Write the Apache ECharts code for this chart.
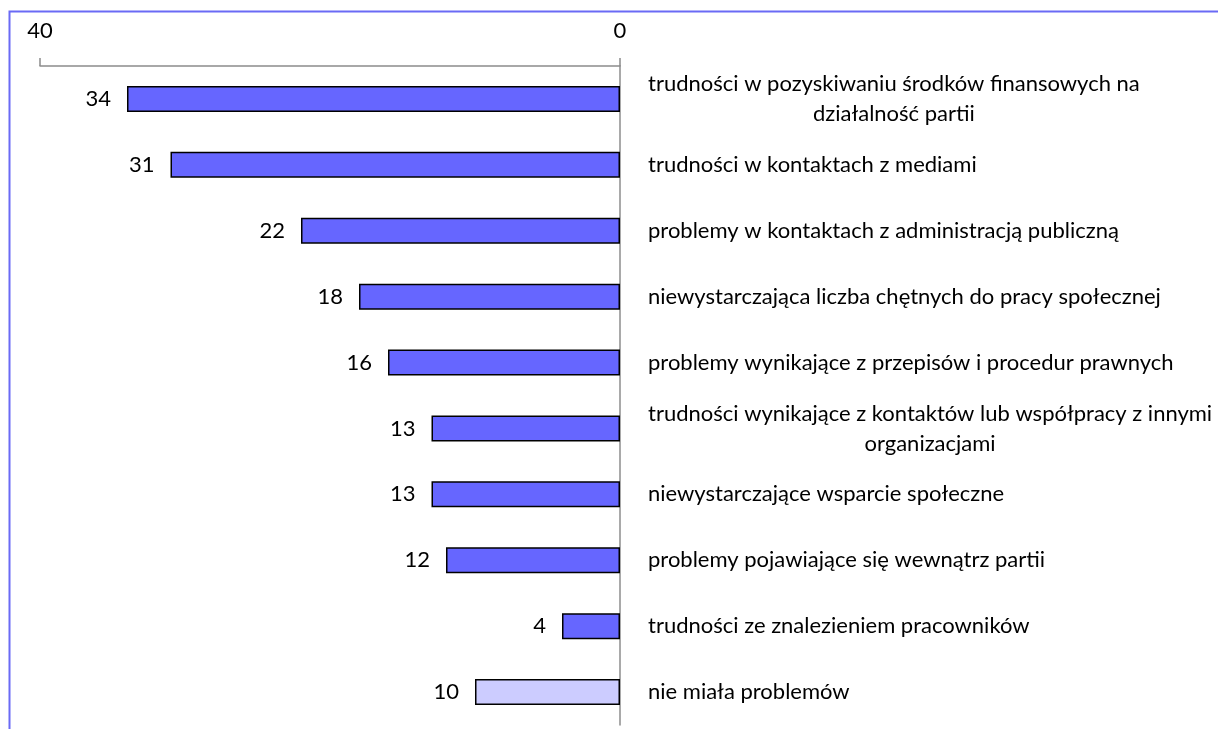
<!DOCTYPE html>
<html>
<head>
<meta charset="utf-8">
<script src="https://cdn.jsdelivr.net/npm/echarts@6/dist/echarts.min.js"></script>
<style>
  html, body { margin: 0; padding: 0; background: #fff; }
  #chart { width: 1218px; height: 729px; }
</style>
</head>
<body>
<div id="chart"></div>
<script>
var categories = [
  'trudności w pozyskiwaniu środków finansowych na\ndziałalność partii',
  'trudności w kontaktach z mediami',
  'problemy w kontaktach z administracją publiczną',
  'niewystarczająca liczba chętnych do pracy społecznej',
  'problemy wynikające z przepisów i procedur prawnych',
  'trudności wynikające z kontaktów lub współpracy z innymi\norganizacjami',
  'niewystarczające wsparcie społeczne',
  'problemy pojawiające się wewnątrz partii',
  'trudności ze znalezieniem pracowników',
  'nie miała problemów'
];
var values = [34, 31, 22, 18, 16, 13, 13, 12, 4, 10];
var barColors = ['#6666ff', '#6666ff', '#6666ff', '#6666ff', '#6666ff',
                 '#6666ff', '#6666ff', '#6666ff', '#6666ff', '#ccccff'];
var axisMin = 0, axisMax = 40, axisStep = 40;

var myChart = echarts.init(document.getElementById('chart'));

var option = {
  backgroundColor: '#fff',
  textStyle: { fontFamily: 'Lato' },
  animation: false,
  // ramka wykresu
  graphic: [{
    type: 'rect',
    shape: { x: 9.5, y: 11.5, width: 1400, height: 900 },
    style: { fill: 'none', stroke: '#6a6af5', lineWidth: 2 },
    silent: true
  }],
  grid: { left: 40, right: 598, top: 66, bottom: 4 },
  xAxis: {
    type: 'value',
    position: 'top',
    inverse: true,
    min: axisMin,
    max: axisMax,
    interval: axisStep,
    axisLine: { show: true, lineStyle: { color: '#8c8c8c', width: 1.5 } },
    axisTick: { show: true, length: 8, lineStyle: { color: '#8c8c8c', width: 1.5 } },
    axisLabel: { margin: 24, fontSize: 22, color: '#000', fontFamily: 'Lato' },
    splitLine: { show: false }
  },
  yAxis: {
    type: 'category',
    position: 'right',
    inverse: true,
    data: categories,
    axisLine: { show: true, lineStyle: { color: '#8c8c8c', width: 1.5 } },
    axisTick: { show: false },
    axisLabel: {
      margin: 28,
      align: 'left',
      fontSize: 22,
      color: '#000',
      fontFamily: 'Lato',
      lineHeight: 30,
      formatter: function (v) {
        var lines = v.split('\n');
        if (lines.length === 1) return v;
        return lines.map(function (l) { return '{c|' + l + '}'; }).join('\n');
      },
      rich: {
        c: { align: 'center', fontSize: 22, color: '#000', fontFamily: 'Lato', lineHeight: 30 }
      }
    }
  },
  series: [{
    type: 'bar',
    barWidth: 26,
    data: values.map(function (v, i) {
      return { value: v, itemStyle: { color: barColors[i] } };
    }),
    itemStyle: { borderColor: '#000', borderWidth: 1.5 },
    label: {
      show: true,
      position: 'left',
      distance: 16,
      fontSize: 22,
      color: '#000',
      fontFamily: 'Lato'
    }
  }]
};

myChart.setOption(option);
</script>
</body>
</html>
